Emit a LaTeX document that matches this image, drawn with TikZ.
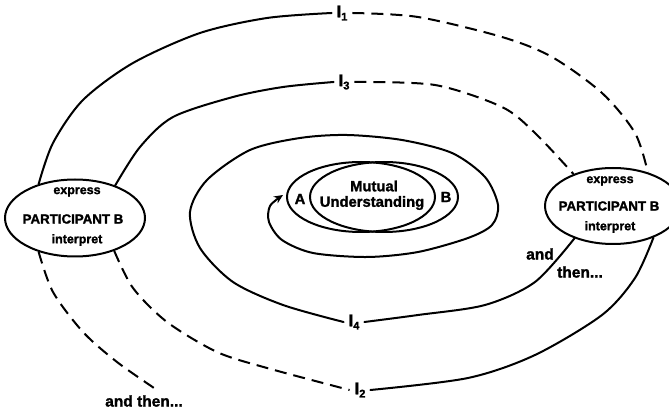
\documentclass[tikz,border=0pt]{standalone}
\usepackage{fontspec}
\setmainfont{Liberation Sans}[BoldFeatures={FakeBold=1.6}]
\usetikzlibrary{shapes.geometric,arrows.meta}
\newcommand\orb[1]{\fontsize{17}{17}\selectfont I\raisebox{-0.35ex}{\fontsize{11}{11}\selectfont #1}}
\newcommand\fsz[1]{\fontsize{#1}{#1}\selectfont}
\begin{document}
\begin{tikzpicture}[x=1pt,y=-1pt,line width=2pt,line cap=round,
  ell/.style={draw,ellipse,inner sep=0pt},
  txt/.style={font=\bfseries\fsz{12.5},inner sep=0pt},
  big/.style={font=\bfseries\fsz{13.3},inner sep=0pt},
  mu/.style={font=\bfseries\fsz{14.8},inner sep=0pt},
  thn/.style={font=\bfseries\fsz{15.5},inner sep=0pt},
  lab/.style={font=\bfseries,inner sep=4pt},
  dsh/.style={dash pattern=on 12pt off 7pt,line cap=butt}]
\useasboundingbox (0,0) rectangle (669,411);
\clip (0,0) rectangle (669,411);
% participant ellipses
\node[ell,minimum width=140pt,minimum height=77pt] (lp) at (75,218) {};
\node[ell,minimum width=136pt,minimum height=76pt] (rp) at (613,206) {};
\node[txt] (lpe) at (77,192) {express};
\node[big] (lpn) at (73,219) {PARTICIPANT B};
\node[txt] (lpi) at (77,240) {interpret};
\node[txt] (rpe) at (610,181) {express};
\node[big] (rpn) at (609,206) {PARTICIPANT B};
\node[txt] (rpi) at (610,227) {interpret};
% mutual understanding
\node[ell,minimum width=148pt,minimum height=70pt] (A) at (361,197) {};
\node[ell,minimum width=148pt,minimum height=70pt] (B) at (384,197) {};
\node[mu] (mun) at (374,186) {Mutual};
\node[mu] (und) at (372,203) {Understanding};
\node[mu] (la) at (300,199) {A};
\node[mu] (lb) at (446,197) {B};
% orbit labels
\node[lab] (I1) at (342,13) {\orb{1}};
\node[lab] (I3) at (344,82) {\orb{3}};
\node[lab] (I2) at (360,390) {\orb{2}};
\node[lab] (I4) at (354,322) {\orb{4}};
% and then texts
\node[thn] (thL) at (144,401) {and then...};
\node[thn] (thR1) at (540,254) {and};
\node[thn] (thR2) at (580,272) {then...};
\coordinate (endL) at (157,390);
% I1
\draw plot[smooth] coordinates {(lp.137) (53,143) (83,100) (133,63) (200,33) (267,18) (I1.west)};
\draw[dsh] plot[smooth] coordinates {(I1.east) (418,17) (502,37) (552,57) (602,93) (635,133) (rp.44)};
% I3
\draw plot[smooth] coordinates {(lp.39) (140,147) (173,117) (233,97) (283,87) (I3.west)};
\draw[dsh] plot[smooth] coordinates {(I3.east) (435,85) (502,107) (535,133) (rp.141)};
% and then (left)
\draw[dsh] plot[smooth] coordinates {(lp.223) (53,292) (83,332) (117,362) (endL)};
% I2
\draw[dsh] plot[smooth] coordinates {(lp.320) (133,288) (167,322) (217,352) (267,368) (I2.west)};
\draw plot[smooth] coordinates {(I2.east) (468,378) (535,355) (602,315) (635,278) (rp.322)};
% I4 spiral
\draw plot[smooth] coordinates {(rp.220) (535,282) (485,305) (418,315) (I4.east)};
\draw[-{Stealth[length=9pt,width=8pt]}] plot[smooth] coordinates {(I4.west) (283,305) (233,282) (200,248) (190,212) (207,180) (250,150) (300,138) (347,135) (402,140) (452,153) (485,177) (498,205) (492,225) (468,238) (418,252) (367,257) (313,253) (282,240) (269,222) (270,206) (283,195)};
\end{tikzpicture}
\end{document}
